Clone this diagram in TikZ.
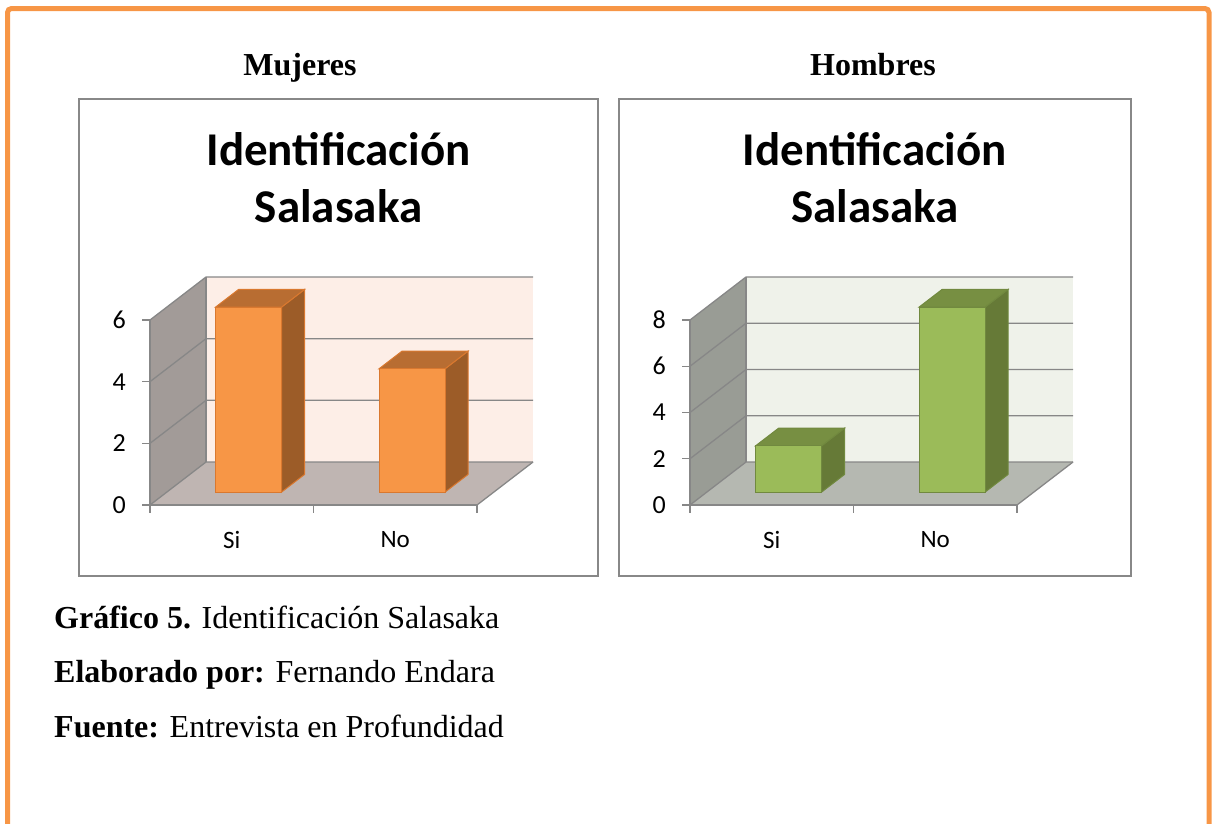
\documentclass[tikz,border=0pt]{standalone}
\usepackage{fontspec}
\setmainfont{Liberation Serif}
\newfontfamily\calfont{Carlito}
\usepackage{tikz}
\usepackage{xcolor}

\definecolor{frameorange}{HTML}{F79646}
\definecolor{boxgray}{HTML}{888888}
\definecolor{gridgray}{HTML}{878787}
\definecolor{orfront}{HTML}{F79646}
\definecolor{orside}{HTML}{9C5C28}
\definecolor{ortop}{HTML}{B86D32}
\definecolor{oredge}{HTML}{D9782F}
\definecolor{pinkwall}{HTML}{FDEEE7}
\definecolor{pinkside}{HTML}{A29B98}
\definecolor{pinkfloor}{HTML}{BFB5B2}
\definecolor{grfront}{HTML}{9BBB59}
\definecolor{grside}{HTML}{667A37}
\definecolor{grtop}{HTML}{778F42}
\definecolor{gredge}{HTML}{71893F}
\definecolor{greenwall}{HTML}{EFF2EA}
\definecolor{greenside}{HTML}{999C95}
\definecolor{greenfloor}{HTML}{B5B8B1}

\tikzset{
  chartbox/.style={draw=boxgray, line width=1.5pt},
  gridline/.style={draw=gridgray, line width=1.3pt},
  ticklabel/.style={font=\calfont\fontsize{26}{30}\selectfont, anchor=east, inner sep=0pt},
  catlabel/.style={font=\calfont\fontsize{25}{30}\selectfont, inner sep=0pt},
  charttitle/.style={font=\calfont\bfseries\fontsize{47}{57}\selectfont, align=center, inner sep=0pt},
  heading/.style={font=\bfseries\fontsize{32}{38}\selectfont, anchor=base, inner sep=0pt},
  captionline/.style={font=\fontsize{32}{38}\selectfont, anchor=base west, inner sep=0pt},
}

\begin{document}
\begin{tikzpicture}[x=1pt, y=-1pt]
    \useasboundingbox (0,0) rectangle (1213,823);
    % 3d bar: centre, value, colour prefix
    \def\drawbar#1#2#3{
        \filldraw[fill=#3side, draw=#3edge, line width=1pt] (#1+33,0,0.3) -- (#1+33,0,0.71) -- (#1+33,#2,0.71) -- (#1+33,#2,0.3) -- cycle;
        \filldraw[fill=#3top, draw=#3edge, line width=1pt] (#1-33,#2,0.3) -- (#1+33,#2,0.3) -- (#1+33,#2,0.71) -- (#1-33,#2,0.71) -- cycle;
        \filldraw[fill=#3front, draw=#3edge, line width=1pt] (#1-33,0,0.3) rectangle (#1+33,#2,0.3);
    }
    \draw[frameorange, line width=5pt, rounded corners=4pt] (7.5,830) -- (7.5,8.5) -- (1209,8.5) -- (1209,830);

    \node[heading] (mujeres) at (300,75) {Mujeres};
    \node[heading] (hombres) at (873,75) {Hombres};

    \draw[chartbox] (79,99) rectangle (598,576);
    \draw[chartbox] (619,99) rectangle (1131,576);
    \node[charttitle, anchor=base] (mtitle) at (338.5,222) {Identificación\\Salasaka};
    \node[charttitle, anchor=base] (htitle) at (875,222) {Identificación\\Salasaka};

    % mujeres
    \begin{scope}[shift={(150,505)}, y={(0,30.833pt)}, z={(56pt,43pt)}]
        \fill[pinkside] (0,0,0) -- (0,0,1) -- (0,6,1) -- (0,6,0) -- cycle;
        \fill[pinkwall] (0,0,1) rectangle (327,6,1);
        \fill[pinkfloor] (0,0,0) -- (327,0,0) -- (327,0,1) -- (0,0,1) -- cycle;
        \foreach \v in {0,2,4,6}
            \draw[gridline] (0,\v,0) -- (0,\v,1) -- (327,\v,1);
        \draw[gridline] (0,0,1) -- (0,6,1);
        \draw[gridline] (327,0,0) -- (327,0,1);
        \draw[gridline] (0,6,0) -- (0,0,0) -- (327,0,0);
        \foreach \v in {0,2,4,6} {
            \draw[gridline] (0,\v,0) -- ++(-8pt,0);
            \node[ticklabel] (mtick\v) at (-24,\v,0) {\v};
        }
        \foreach \x in {0,163.5,327}
            \draw[gridline] (\x,0,0) -- ++(0,-8pt);
        \drawbar{81.75}{6}{or}
        \drawbar{245.25}{4}{or}
        \node[catlabel, yshift=-35pt] (msi) at (81.75,0,0) {Si};
        \node[catlabel, yshift=-35pt] (mno) at (245.25,0,0) {No};
    \end{scope}

    % hombres
    \begin{scope}[shift={(690,505)}, y={(0,23.125pt)}, z={(56pt,43pt)}]
        \fill[greenside] (0,0,0) -- (0,0,1) -- (0,8,1) -- (0,8,0) -- cycle;
        \fill[greenwall] (0,0,1) rectangle (327,8,1);
        \fill[greenfloor] (0,0,0) -- (327,0,0) -- (327,0,1) -- (0,0,1) -- cycle;
        \foreach \v in {0,2,4,6,8}
            \draw[gridline] (0,\v,0) -- (0,\v,1) -- (327,\v,1);
        \draw[gridline] (0,0,1) -- (0,8,1);
        \draw[gridline] (327,0,0) -- (327,0,1);
        \draw[gridline] (0,8,0) -- (0,0,0) -- (327,0,0);
        \foreach \v in {0,2,4,6,8} {
            \draw[gridline] (0,\v,0) -- ++(-8pt,0);
            \node[ticklabel] (htick\v) at (-24,\v,0) {\v};
        }
        \foreach \x in {0,163.5,327}
            \draw[gridline] (\x,0,0) -- ++(0,-8pt);
        \drawbar{81.75}{2}{gr}
        \drawbar{245.25}{8}{gr}
        \node[catlabel, yshift=-35pt] (hsi) at (81.75,0,0) {Si};
        \node[catlabel, yshift=-35pt] (hno) at (245.25,0,0) {No};
    \end{scope}

    \node[captionline] (grafico) at (54,628) {\textbf{Gráfico 5.} Identificación Salasaka};
    \node[captionline] (elaborado) at (54,682) {\textbf{Elaborado por:} Fernando Endara};
    \node[captionline] (fuente) at (54,737) {\textbf{Fuente:} Entrevista en Profundidad};
\end{tikzpicture}
\end{document}
